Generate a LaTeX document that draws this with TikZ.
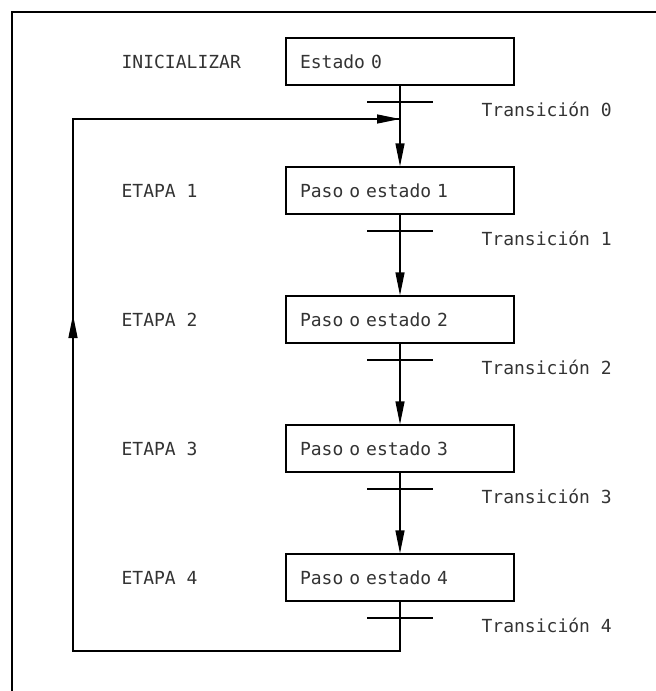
\documentclass[tikz,border=0pt]{standalone}
\usepackage{fontspec}
\newfontfamily\cadfont{DejaVu Sans Mono}
\usetikzlibrary{arrows.meta}
\begin{document}
\begin{tikzpicture}[x=1pt,y=-1pt,
  line width=1.3pt,
  stepbox/.style={draw, minimum width=228pt, minimum height=47pt,
    text width=200pt, align=left, inner xsep=14pt, inner ysep=0pt,
    font=\cadfont\fontsize{18}{20}\selectfont, text=black!80},
  lbl/.style={anchor=west, inner sep=0pt,
    font=\cadfont\fontsize{18}{20}\selectfont, text=black!80},
  tip/.style={-{Triangle[length=23pt,width=9pt]}},
]
\useasboundingbox (0,0) rectangle (656,691);
% sheet frame
\draw[line width=2pt] (12,691) -- (12,12) -- (656,12);

% steps
\foreach \i/\t in {0/Estado 0,1/Paso o estado 1,2/Paso o estado 2,3/Paso o estado 3,4/Paso o estado 4}{
  \node[stepbox] (s\i) at (400,{61.5+129*\i}) {\t};
  \coordinate (t\i) at (400,{102+129*\i});
  \draw ([xshift=-33pt]t\i) -- ([xshift=33pt]t\i);
  \node[lbl] (tl\i) at (481,{109+129*\i}) {Transición \i};
}
\node[lbl] (e0) at (121,61.5) {INICIALIZAR};
\foreach \i in {1,...,4}{
  \node[lbl] (e\i) at (121,{61.5+129*\i}) {ETAPA \i};
}

% flow between steps
\foreach \i/\j in {0/1,1/2,2/3,3/4}{
  \draw[tip] (s\i.south) -- (s\j.north);
}

% return loop from the last transition
\coordinate (j0) at (400,119);
\coordinate (lb) at (73,651);
\coordinate (lt) at (73,119);
\coordinate (lm) at (73,315);
\draw (s4.south) -- (s4.south |- lb) -- (lb) -- (lt) -- (j0);
\draw[tip] (lb) -- (lm);
\draw[tip] (lt) -- (j0);
\end{tikzpicture}
\end{document}
